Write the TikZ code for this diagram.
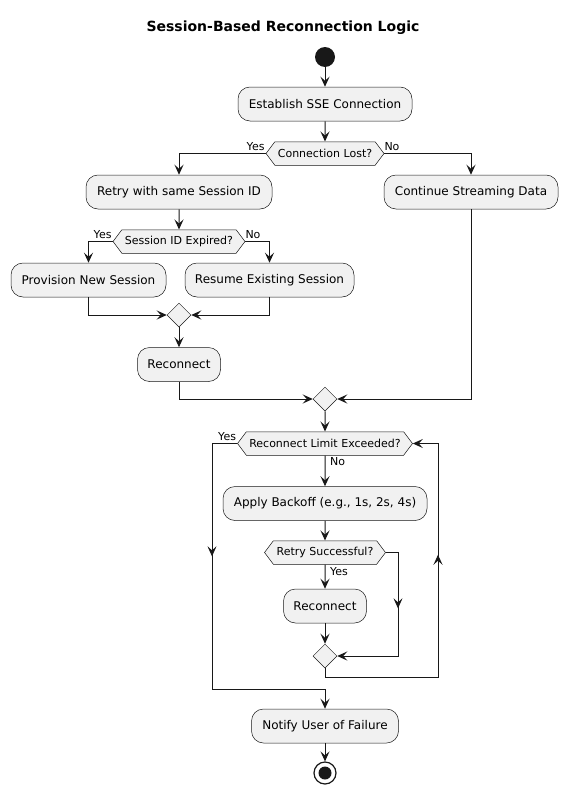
\documentclass[tikz,border=0pt]{standalone}
\usepackage{fontspec}
\setmainfont{DejaVu Sans}
\usetikzlibrary{arrows.meta,shapes.geometric,shapes.symbols,decorations.markings}
\definecolor{boxfill}{HTML}{F1F1F1}
\definecolor{ink}{HTML}{181818}
\begin{document}
\begin{tikzpicture}[x=1pt,y=-1pt,
  tip/.tip={Stealth[length=10pt,width=9pt,inset=4pt]},
  act/.style={rectangle, rounded corners=12pt, draw=ink, line width=0.5pt, fill=boxfill,
    font=\fontsize{12}{14}\selectfont, inner sep=0pt, minimum height=34pt},
  hexbox/.style={signal, signal to=west and east, signal pointer angle=106, draw=ink,
    line width=0.5pt, fill=boxfill, font=\fontsize{11}{13}\selectfont, inner sep=0pt,
    minimum height=23.5pt},
  merge/.style={diamond, draw=ink, line width=0.5pt, fill=boxfill, inner sep=0pt,
    minimum width=24pt, minimum height=24pt},
  flow/.style={draw=ink, line width=1pt, -tip},
  midarrow/.style={postaction={decorate}, decoration={markings,
    mark=at position #1 with {\arrow{tip}}}},
  lab/.style={font=\fontsize{11}{13}\selectfont, inner sep=0pt, text=black}
]
\path[use as bounding box, fill=white] (0,0) rectangle (567,795);

\node[font=\bfseries\fontsize{14}{17}\selectfont] (title) at (283,28) {Session-Based Reconnection Logic};

\node[circle, fill=ink, inner sep=0pt, minimum size=20pt] (start) at (325,57) {};
\node[act, minimum width=174pt] (est) at (325,104) {Establish SSE Connection};
\node[hexbox, minimum width=118pt] (lost) at (325,153.5) {Connection Lost?};
\node[act, minimum width=186pt] (retry) at (179,192) {Retry with same Session ID};
\node[act, minimum width=174pt] (cont) at (471,192) {Continue Streaming Data};
\node[hexbox, minimum width=132pt] (exp) at (179,241.5) {Session ID Expired?};
\node[act, minimum width=155pt] (prov) at (88.5,280) {Provision New Session};
\node[act, minimum width=169pt] (res) at (269.5,280) {Resume Existing Session};
\node[merge] (m1) at (179,315) {};
\node[act, minimum width=83pt] (rc1) at (179,364.5) {Reconnect};
\node[merge] (m2) at (325,399) {};
\node[hexbox, minimum width=175pt] (lim) at (325,443.5) {Reconnect Limit Exceeded?};
\node[act, minimum width=204pt] (back) at (325,503.5) {Apply Backoff (e.g., 1s, 2s, 4s)};
\node[hexbox, minimum width=121pt] (rs) at (325,552.5) {Retry Successful?};
\node[act, minimum width=83pt] (rc2) at (325,606) {Reconnect};
\node[merge] (m3) at (325,656) {};
\node[act, minimum width=147pt] (notify) at (325,726) {Notify User of Failure};
\node[circle, draw=ink, line width=1.2pt, fill=white, inner sep=0pt, minimum size=22pt] (end) at (325,773) {};
\node[circle, fill=ink, inner sep=0pt, minimum size=13pt] (endin) at (end) {};

\coordinate (lc) at (212,689);
\coordinate (rsc) at (398,656);
\coordinate (lp) at (438,677);

\draw[flow] (start) -- (est);
\draw[flow] (est) -- (lost);
\draw[flow] (lost.west) -| (retry.north);
\draw[flow] (lost.east) -| (cont.north);
\draw[flow] (retry) -- (exp);
\draw[flow] (exp.west) -| (prov.north);
\draw[flow] (exp.east) -| (res.north);
\draw[flow] (prov.south) |- (m1.west);
\draw[flow] (res.south) |- (m1.east);
\draw[flow] (m1) -- (rc1);
\draw[flow] (rc1.south) |- (m2.west);
\draw[flow] (cont.south) |- (m2.east);
\draw[flow] (m2) -- (lim);
\draw[flow] (lim) -- (back);
\draw[flow, midarrow=138pt] (lim.west) -| (lc) -| (notify.north);
\draw[flow] (back) -- (rs);
\draw[flow] (rs) -- (rc2);
\draw[flow, midarrow=68pt] (rs.east) -| (rsc) -- (m3.east);
\draw[flow] (rc2) -- (m3);
\draw[flow, midarrow=244pt] (m3.south) |- (lp) |- (lim.east);
\draw[flow] (notify) -- (end);

\node[lab, anchor=south east] (l1) at ([xshift=-1pt,yshift=2.5pt]lost.west) {Yes};
\node[lab, anchor=south west] (l2) at ([xshift=0pt,yshift=2.5pt]lost.east) {No};
\node[lab, anchor=south east] (l3) at ([xshift=-1pt,yshift=2.5pt]exp.west) {Yes};
\node[lab, anchor=south west] (l4) at ([xshift=0pt,yshift=2.5pt]exp.east) {No};
\node[lab, anchor=south east] (l5) at ([xshift=-1pt,yshift=2.5pt]lim.west) {Yes};
\node[lab, anchor=north west] (l6) at ([xshift=5pt,yshift=-2pt]lim.south) {No};
\node[lab, anchor=north west] (l7) at ([xshift=5pt,yshift=-3pt]rs.south) {Yes};
\end{tikzpicture}
\end{document}
